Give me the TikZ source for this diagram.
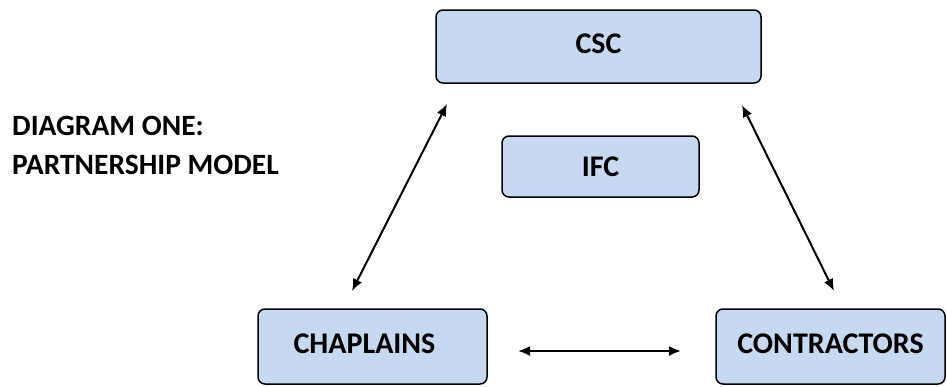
\documentclass[tikz,border=0pt]{standalone}
\usepackage{fontspec}
\setmainfont{Carlito}
\usetikzlibrary{arrows.meta}
\definecolor{boxfill}{HTML}{C6D9F1}
\tikzset{
  box/.style={draw=black, line width=1.5pt, fill=boxfill, rounded corners=7pt, inner sep=0pt},
  boxtext/.style={font=\bfseries\fontsize{30}{34}\selectfont},
  titletext/.style={font=\bfseries\fontsize{29.5}{34}\selectfont, anchor=base west, inner sep=0pt},
  link/.style={line width=2pt, {Latex[length=12pt,width=10pt]}-{Latex[length=12pt,width=10pt]}},
}
\begin{document}
\begin{tikzpicture}[x=1pt,y=-1pt]
\useasboundingbox (0,0) rectangle (947,386);
% boxes
\node[box, boxtext, minimum width=325pt, minimum height=73pt] (csc) at (598.5,46.5) {\raisebox{6pt}{CSC}};
\node[box, boxtext, minimum width=197pt, minimum height=61pt] (ifc) at (600.5,166.5) {IFC};
\node[box, boxtext, minimum width=229pt, minimum height=75pt] (chap) at (372.5,346.5) {\raisebox{6pt}{CHAPLAINS}\hspace*{16pt}};
\node[box, boxtext, minimum width=229pt, minimum height=75pt] (cont) at (830.5,346.5) {\raisebox{6pt}{CONTRACTORS}};
% title
\node[titletext] (title1) at (12,135) {DIAGRAM ONE:};
\node[titletext] (title2) at (12,174) {PARTNERSHIP MODEL};
% connector ends
\coordinate (cscL) at (447,104);
\coordinate (chapT) at (352,291);
\coordinate (cscR) at (742,105);
\coordinate (contT) at (834,291);
\coordinate (chapR) at (518,351);
\coordinate (contL) at (681,351);
\draw[link] (cscL) -- (chapT);
\draw[link] (cscR) -- (contT);
\draw[link] (chapR) -- (contL);
\end{tikzpicture}
\end{document}
